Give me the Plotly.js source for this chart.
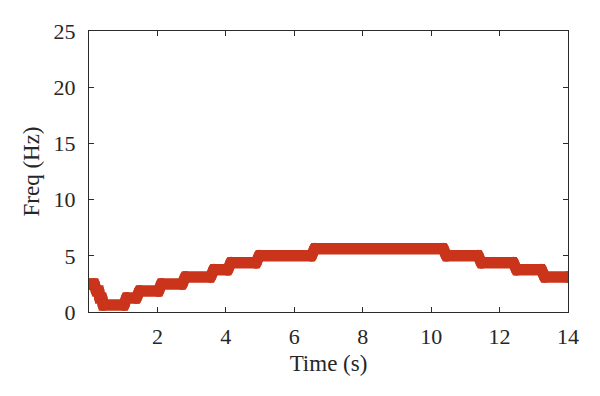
<!DOCTYPE html>
<html>
<head>
<meta charset="utf-8">
<script src="https://cdn.plot.ly/plotly-3.0.1.min.js"></script>
<style>
  html, body { margin: 0; padding: 0; background: #fff; }
  #chart { width: 600px; height: 396px; }
</style>
</head>
<body>
<div id="chart"></div>
<script>
// Step segments: time (s) and frequency (Hz)
const timeS = [0, 0.15, 0.22, 0.28, 0.32, 0.37, 0.42, 1.02, 1.1, 1.38, 1.48, 2.03, 2.12, 2.72, 2.82, 3.55, 3.65, 4.05, 4.15, 4.88, 4.98, 6.5, 6.6, 10.35, 10.45, 11.37, 11.47, 12.4, 12.5, 13.22, 13.32, 14];
const freqHz = [2.5, 2.5, 1.875, 1.875, 1.25, 1.25, 0.625, 0.625, 1.25, 1.25, 1.875, 1.875, 2.5, 2.5, 3.125, 3.125, 3.75, 3.75, 4.375, 4.375, 5.0, 5.0, 5.625, 5.625, 5.0, 5.0, 4.375, 4.375, 3.75, 3.75, 3.125, 3.125];

const xTicks = [2, 4, 6, 8, 10, 12, 14];
const yTicks = [0, 5, 10, 15, 20, 25];

const lineColor = '#C9341A';
const axisColor = '#2b2b2b';
const fontFam = '"Liberation Serif", "DejaVu Serif", serif';

const trace = {
  x: timeS,
  y: freqHz,
  type: 'scatter',
  mode: 'lines+markers',
  line: { color: lineColor, width: 11.5 },
  marker: { color: lineColor, size: 12 },
  cliponaxis: true,
  hoverinfo: 'skip'
};

const layout = {
  width: 600,
  height: 396,
  margin: { l: 88.5, r: 32.3, t: 30.7, b: 84 },
  paper_bgcolor: '#ffffff',
  plot_bgcolor: '#ffffff',
  showlegend: false,
  font: { family: fontFam, color: '#262626', size: 22 },
  xaxis: {
    range: [0, 14],
    tickvals: xTicks,
    ticktext: xTicks.map(String),
    ticks: 'inside',
    ticklen: 5,
    tickcolor: axisColor,
    showline: true,
    linecolor: axisColor,
    linewidth: 1,
    mirror: 'ticks',
    showgrid: false,
    zeroline: false,
    ticklabelstandoff: 5,
    tickfont: { family: fontFam, size: 22, color: '#262626' },
    title: { text: 'Time (s)', font: { family: fontFam, size: 23, color: '#262626' }, standoff: 6 }
  },
  yaxis: {
    range: [0, 25],
    tickvals: yTicks,
    ticktext: yTicks.map(String),
    ticks: 'inside',
    ticklen: 5,
    tickcolor: axisColor,
    showline: true,
    linecolor: axisColor,
    linewidth: 1,
    mirror: 'ticks',
    showgrid: false,
    zeroline: false,
    ticklabelstandoff: 8,
    tickfont: { family: fontFam, size: 22, color: '#262626' },
    title: { text: 'Freq (Hz)', font: { family: fontFam, size: 23, color: '#262626' }, standoff: 7 }
  }
};

Plotly.newPlot('chart', [trace], layout, { staticPlot: true, displayModeBar: false });
</script>
</body>
</html>
